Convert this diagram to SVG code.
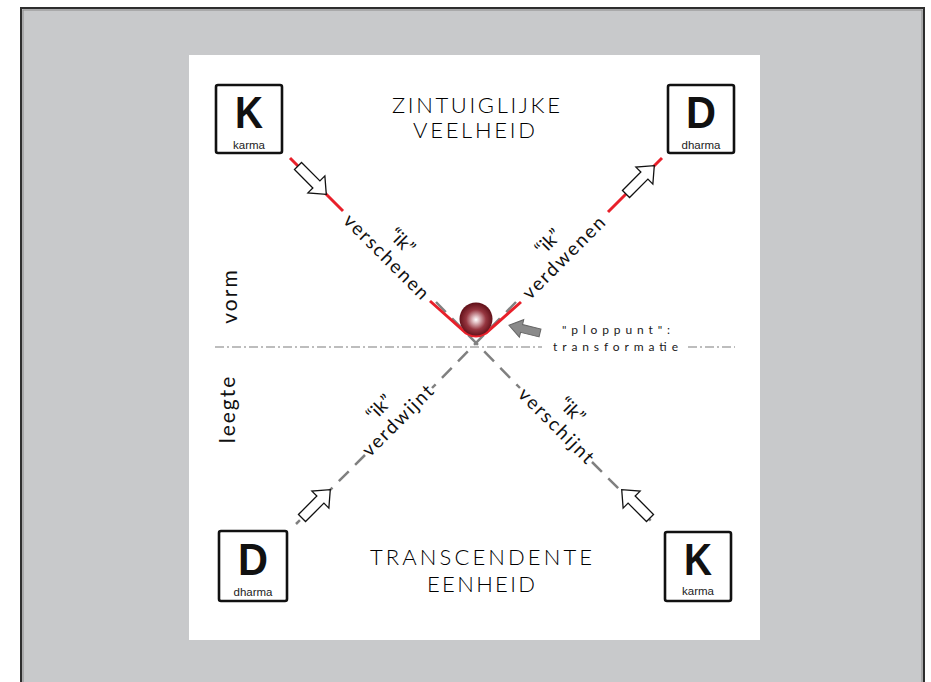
<svg xmlns="http://www.w3.org/2000/svg" width="931" height="682" viewBox="0 0 931 682">
<style>
.frame{fill:#c8c9cb;stroke:#2e2e2e;stroke-width:2}
.box{fill:#fff;stroke:#111;stroke-width:2.6}
.big{font-family:"Liberation Sans",Arial,sans-serif;font-weight:bold;font-size:44px;fill:#111;text-anchor:middle}
.small{font-family:"Liberation Sans",Arial,sans-serif;font-size:11.5px;fill:#222;text-anchor:middle}
.title{font-family:Lato,"Liberation Sans",sans-serif;font-weight:300;font-size:22px;fill:#000;text-anchor:middle}
.side{font-family:Lato,"Liberation Sans",sans-serif;font-size:21px;fill:#111;text-anchor:middle;letter-spacing:2px}
.lbl{font-family:Lato,"Liberation Sans",sans-serif;font-size:19px;fill:#111;text-anchor:middle}
.plop{font-family:Lato,"Liberation Sans",sans-serif;font-size:12px;fill:#1a1a1a}
.red{stroke:#e8202a;stroke-width:3;fill:none}
.dash{stroke:#808080;stroke-width:2.5;fill:none;stroke-dasharray:14 9}
.dd{stroke:#a8a8a8;stroke-width:1.5;fill:none;stroke-dasharray:9 3 2 3}
.arr{fill:#fff;stroke:#111;stroke-width:1.3;stroke-linejoin:miter}
</style>
<defs>
<radialGradient id="ball" cx="50%" cy="52%" r="55%" fx="50%" fy="52%">
<stop offset="0" stop-color="#ffffff"/>
<stop offset="0.18" stop-color="#e2c0c4"/>
<stop offset="0.55" stop-color="#963640"/>
<stop offset="1" stop-color="#560810"/>
</radialGradient>
<polygon id="blk" points="0,-5 26,-5 26,-12 40,0 26,12 26,5 0,5"/>
</defs>
<rect x="0" y="0" width="931" height="682" fill="#fff"/>
<rect class="frame" x="21" y="8" width="903" height="690"/>
<rect x="23" y="10" width="899" height="690" fill="none" stroke="#8a8a8a" stroke-width="1"/>
<rect x="189" y="55" width="571" height="585" fill="#fff"/>

<g id="connectors">
<line class="dd" x1="215" y1="347" x2="542" y2="347"/>
<line class="dd" x1="688" y1="347" x2="735" y2="347"/>
<line class="dash" x1="436" y1="302" x2="520" y2="388"/>
<line class="dash" x1="516" y1="302" x2="432" y2="388"/>
<line class="dash" x1="365" y1="455" x2="296" y2="524"/>
<line class="dash" x1="592" y1="462" x2="656" y2="526"/>
<line class="red" x1="290" y1="158" x2="343" y2="211"/>
<line class="red" x1="662" y1="158" x2="608" y2="212"/>
<path class="red" d="M430,301 L466,333 Q476,339 486,333 L521,302"/>
<use href="#blk" class="arr" transform="translate(298,166) rotate(45)"/>
<use href="#blk" class="arr" transform="translate(626,194) rotate(-45)"/>
<use href="#blk" class="arr" transform="translate(302,518) rotate(-45)"/>
<use href="#blk" class="arr" transform="translate(650,518) rotate(-135)"/>
<polygon points="0,-4 19,-4 19,-9 32,0 19,9 19,4 0,4" fill="#8a8a8a" stroke="#666" stroke-width="1" transform="translate(540,333) rotate(194)"/>
</g>

<g id="ball-node"><circle cx="476" cy="319" r="16.5" fill="url(#ball)"/></g>

<g id="k-top"><rect class="box" x="216" y="85" width="66" height="68" rx="2"/>
<text class="big" x="249" y="128" textLength="28" lengthAdjust="spacingAndGlyphs">K</text>
<text class="small" x="249" y="148.5">karma</text></g>
<g id="d-top"><rect class="box" x="668" y="85" width="66" height="68" rx="2"/>
<text class="big" x="701" y="128" textLength="30" lengthAdjust="spacingAndGlyphs">D</text>
<text class="small" x="701" y="148.5">dharma</text></g>
<g id="d-bottom"><rect class="box" x="219" y="531" width="68" height="70" rx="2"/>
<text class="big" x="253" y="575" textLength="30" lengthAdjust="spacingAndGlyphs">D</text>
<text class="small" x="253" y="595.5">dharma</text></g>
<g id="k-bottom"><rect class="box" x="665" y="532" width="66" height="69" rx="2"/>
<text class="big" x="698" y="575" textLength="28" lengthAdjust="spacingAndGlyphs">K</text>
<text class="small" x="698" y="595">karma</text></g>

<g id="titles">
<text class="title" x="476" y="113" textLength="168" lengthAdjust="spacing">ZINTUIGLIJKE</text>
<text class="title" x="474" y="138" textLength="122" lengthAdjust="spacing">VEELHEID</text>
<text class="title" x="481" y="565" textLength="222" lengthAdjust="spacing">TRANSCENDENTE</text>
<text class="title" x="481" y="592" textLength="108" lengthAdjust="spacing">EENHEID</text>
<text class="side" transform="translate(237,296) rotate(-90)">vorm</text>
<text class="side" transform="translate(235,409) rotate(-90)">leegte</text>
<text class="plop" x="562" y="334" textLength="108" lengthAdjust="spacing">"ploppunt":</text>
<text class="plop" x="553" y="351" textLength="125" lengthAdjust="spacing">transformatie</text>
</g>

<g id="line-labels">
<g transform="translate(386,257) rotate(45)"><text class="lbl" x="0" y="-16">“ik”</text><text class="lbl" x="0" y="6" textLength="112" lengthAdjust="spacing">verschenen</text></g>
<g transform="translate(564,258) rotate(-45)"><text class="lbl" x="0" y="-16">“ik”</text><text class="lbl" x="0" y="6" textLength="108" lengthAdjust="spacing">verdwenen</text></g>
<g transform="translate(398,421) rotate(-45)"><text class="lbl" x="-4" y="-16">“ik”</text><text class="lbl" x="0" y="6" textLength="92" lengthAdjust="spacing">verdwijnt</text></g>
<g transform="translate(556,426) rotate(45)"><text class="lbl" x="0" y="-16">“ik”</text><text class="lbl" x="0" y="6" textLength="98" lengthAdjust="spacing">verschijnt</text></g>
</g>
</svg>
